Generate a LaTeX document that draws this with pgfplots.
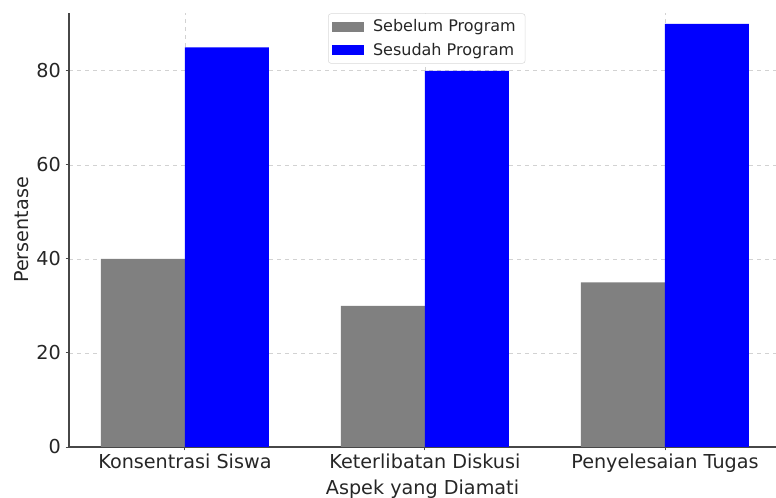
\documentclass[border=0pt]{standalone}
\usepackage{fontspec}
\setmainfont{DejaVu Sans}
\usepackage{pgfplots}
\pgfplotsset{compat=1.18}
\definecolor{txt}{HTML}{262626}
\begin{document}
\begin{tikzpicture}
\useasboundingbox (0,0) rectangle (582pt,373.5pt);
\clip (0,0) rectangle (582pt,373.5pt);
\begin{axis}[
  at={(51.75pt,38.25pt)}, anchor=south west,
  scale only axis, width=530.25pt, height=325.5pt,
  xmin=-0.483, xmax=2.4625, ymin=0, ymax=92.3,
  axis x line*=bottom, axis y line*=left,
  axis line style={txt!85, line width=0.9pt},
  xtick={0,1,2},
  xticklabels={Konsentrasi Siswa, Keterlibatan Diskusi, Penyelesaian Tugas},
  ytick={0,20,40,60,80},
  tick align=outside, major tick length=2.6pt,
  tick style={txt!85, line width=0.7pt},
  /pgf/number format/assume math mode=true,
  ticklabel style={font=\fontsize{14.4}{16}\selectfont, text=txt},
  xticklabel style={yshift=1pt},
  grid=major,
  major grid style={dashed, gray!35, line width=0.5pt},
  xlabel={Aspek yang Diamati}, ylabel={Persentase},
  label style={font=\fontsize{14.4}{16}\selectfont, text=txt},
  xlabel style={yshift=1pt},
  ylabel style={yshift=-1pt},
  legend style={at={(0.506,0.999)}, anchor=north, font=\fontsize{12}{14}\selectfont,
    text=txt, draw=gray!30, rounded corners=2pt, fill=white,
    inner xsep=3pt, inner ysep=2.5pt, row sep=3pt},
  legend cell align=left,
  legend image code/.code={\fill[#1, sharp corners] (0pt,-3.75pt) rectangle (23.5pt,3.75pt);},
  legend style={nodes={inner xsep=4pt}},
  legend style={/tikz/every odd column/.append style={column sep=3pt}},
]
\addplot[ybar, bar width=0.35, bar shift=-0.175, fill=gray, draw=none] coordinates {(0,40) (1,30) (2,35)};
\addplot[ybar, bar width=0.35, bar shift=0.175, fill=blue, draw=none] coordinates {(0,85) (1,80) (2,90)};
\legend{Sebelum Program, Sesudah Program}
\end{axis}
\end{tikzpicture}
\end{document}
